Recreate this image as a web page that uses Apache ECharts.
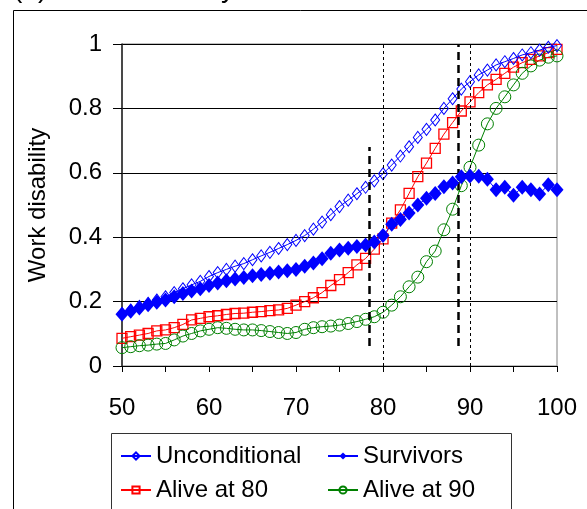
<!DOCTYPE html>
<html>
<head>
<meta charset="utf-8">
<script src="https://cdn.jsdelivr.net/npm/echarts@6/dist/echarts.min.js"></script>
<style>
  html, body { margin: 0; padding: 0; background: #fff; }
  #chart { width: 587px; height: 509px; }
</style>
</head>
<body>
<div id="chart"></div>
<script>
// ages on the x axis
const ages = [50, 51, 52, 53, 54, 55, 56, 57, 58, 59,
  60, 61, 62, 63, 64, 65, 66, 67, 68, 69,
  70, 71, 72, 73, 74, 75, 76, 77, 78, 79,
  80, 81, 82, 83, 84, 85, 86, 87, 88, 89,
  90, 91, 92, 93, 94, 95, 96, 97, 98, 99, 100];

const unconditional = [0.163, 0.174, 0.185, 0.195, 0.205, 0.215, 0.228, 0.24, 0.252, 0.263,
  0.278, 0.29, 0.3, 0.31, 0.318, 0.33, 0.342, 0.353, 0.365, 0.377,
  0.39, 0.405, 0.425, 0.447, 0.47, 0.495, 0.515, 0.535, 0.555, 0.575,
  0.597, 0.624, 0.652, 0.681, 0.71, 0.735, 0.764, 0.8, 0.83, 0.86,
  0.883, 0.904, 0.919, 0.935, 0.945, 0.955, 0.966, 0.973, 0.981, 0.99, 0.995];

const survivors = [0.161, 0.17, 0.18, 0.19, 0.198, 0.205, 0.215, 0.225, 0.233, 0.24,
  0.25, 0.258, 0.265, 0.27, 0.275, 0.28, 0.284, 0.288, 0.292, 0.296,
  0.3, 0.31, 0.32, 0.333, 0.35, 0.36, 0.366, 0.371, 0.376, 0.385,
  0.405, 0.44, 0.455, 0.475, 0.5, 0.521, 0.536, 0.557, 0.568, 0.588,
  0.59, 0.589, 0.58, 0.547, 0.555, 0.53, 0.555, 0.547, 0.534, 0.563, 0.547];

const alive80 = [0.086, 0.091, 0.096, 0.101, 0.109, 0.112, 0.119, 0.129, 0.143, 0.148,
  0.153, 0.156, 0.16, 0.163, 0.164, 0.167, 0.169, 0.172, 0.174, 0.179,
  0.189, 0.2, 0.212, 0.228, 0.25, 0.268, 0.29, 0.314, 0.334, 0.363,
  0.395, 0.444, 0.485, 0.536, 0.588, 0.63, 0.676, 0.72, 0.756, 0.792,
  0.82, 0.849, 0.873, 0.89, 0.909, 0.928, 0.942, 0.952, 0.963, 0.973, 0.983];

const alive90 = [0.057, 0.06, 0.063, 0.065, 0.068, 0.07, 0.081, 0.093, 0.101, 0.109,
  0.114, 0.119, 0.117, 0.114, 0.112, 0.112, 0.11, 0.107, 0.104, 0.101,
  0.104, 0.114, 0.119, 0.122, 0.124, 0.127, 0.132, 0.138, 0.145, 0.153,
  0.167, 0.189, 0.215, 0.246, 0.276, 0.324, 0.357, 0.423, 0.487, 0.56,
  0.617, 0.686, 0.752, 0.8, 0.836, 0.873, 0.909, 0.932, 0.95, 0.959, 0.963];

// vertical reference lines: [age, from, to]
const thickLines = [[78.4, 0.062, 0.68], [88.7, 0.062, 1]];
const dottedLines = [[80, 0, 1], [90, 0, 1]];

const xTicks = [50, 60, 70, 80, 90, 100];

const font = 'Liberation Sans, Arial, sans-serif';

function pairs(vals) {
  return ages.map((a, i) => [a, vals[i]]);
}

const markLines = [];
thickLines.forEach(l => {
  markLines.push([
    { coord: [l[0], l[1]], lineStyle: { color: '#000', width: 2.5, type: [8, 5] } },
    { coord: [l[0], l[2]] }
  ]);
});
dottedLines.forEach(l => {
  markLines.push([
    { coord: [l[0], l[1]], lineStyle: { color: '#000', width: 1, type: [3, 3] } },
    { coord: [l[0], l[2]] }
  ]);
});

let chart = echarts.init(document.getElementById('chart'), null, { renderer: 'canvas' });

let option = {
  backgroundColor: '#fff',
  animation: false,
  textStyle: { fontFamily: font },
  grid: {
    left: 122, right: 30, top: 44, bottom: 143,
    show: true, borderColor: '#808080', borderWidth: 1
  },
  graphic: [
    { type: 'rect', shape: { x: 13.5, y: 10.5, width: 600, height: 520 },
      style: { fill: 'none', stroke: '#000', lineWidth: 1 }, silent: true },
    { type: 'rect', shape: { x: 111.5, y: 433.5, width: 400, height: 100 },
      style: { fill: '#fff', stroke: '#333', lineWidth: 1 }, silent: true, z: -1 },
    { type: 'text', x: 13, y: 3,
      style: { text: '(a) Work disability', font: '28px ' + font, fill: '#000', verticalAlign: 'bottom' } }
  ],
  legend: [
    {
      left: 120, top: 444, orient: 'vertical', padding: 0,
      itemWidth: 30, itemHeight: 9, itemGap: 10,
      textStyle: { fontSize: 24, color: '#000', fontFamily: font },
      data: ['Unconditional', 'Alive at 80']
    },
    {
      left: 327, top: 444, orient: 'vertical', padding: 0,
      itemWidth: 30, itemHeight: 9, itemGap: 10,
      textStyle: { fontSize: 24, color: '#000', fontFamily: font },
      data: ['Survivors', 'Alive at 90']
    }
  ],
  xAxis: {
    type: 'value', min: 50, max: 100, interval: 5,
    axisLine: { show: true, lineStyle: { color: '#000', width: 1 } },
    axisTick: { show: true, length: 6, inside: false, lineStyle: { color: '#000' } },
    axisLabel: {
      fontSize: 24, color: '#000', margin: 30,
      formatter: v => xTicks.indexOf(v) >= 0 ? String(v) : ''
    },
    splitLine: { show: false }
  },
  yAxis: {
    type: 'value', min: 0, max: 1, interval: 0.2,
    name: 'Work disability', nameLocation: 'middle', nameGap: 72, nameRotate: 90,
    nameTextStyle: { fontSize: 24, color: '#000', fontFamily: font },
    axisLine: { show: true, lineStyle: { color: '#222', width: 1.5 } },
    axisTick: { show: true, length: 9, inside: false, lineStyle: { color: '#000' } },
    axisLabel: { fontSize: 24, color: '#000', margin: 20,
      formatter: v => String(Math.round(v * 10) / 10) },
    splitLine: { show: true, lineStyle: { color: '#000', width: 1 } }
  },
  series: [
    {
      name: 'Unconditional', type: 'line', data: pairs(unconditional),
      color: '#0000ff',
      symbol: 'diamond', symbolSize: [9, 12],
      itemStyle: { color: 'rgba(0,0,0,0)', borderColor: '#0000ff', borderWidth: 1 },
      lineStyle: { color: '#0000ff', width: 1 },
      z: 4,
      markLine: {
        silent: true, symbol: 'none', label: { show: false },
        data: markLines
      }
    },
    {
      name: 'Survivors', type: 'line', data: pairs(survivors),
      color: '#0000ff',
      symbol: 'diamond', symbolSize: [13, 15],
      itemStyle: { color: '#0000ff', borderColor: '#0000ff', borderWidth: 0 },
      lineStyle: { color: '#0000ff', width: 1 },
      z: 5
    },
    {
      name: 'Alive at 80', type: 'line', data: pairs(alive80),
      color: '#ff0000',
      symbol: 'rect', symbolSize: 10,
      itemStyle: { color: 'rgba(0,0,0,0)', borderColor: '#ff0000', borderWidth: 1.3 },
      lineStyle: { color: '#ff0000', width: 1 },
      z: 3
    },
    {
      name: 'Alive at 90', type: 'line', data: pairs(alive90),
      color: '#008000',
      symbol: 'circle', symbolSize: 12,
      itemStyle: { color: 'rgba(0,0,0,0)', borderColor: '#008000', borderWidth: 1 },
      lineStyle: { color: '#008000', width: 1 },
      z: 3
    }
  ]
};

option && chart.setOption(option);
</script>
</body>
</html>
